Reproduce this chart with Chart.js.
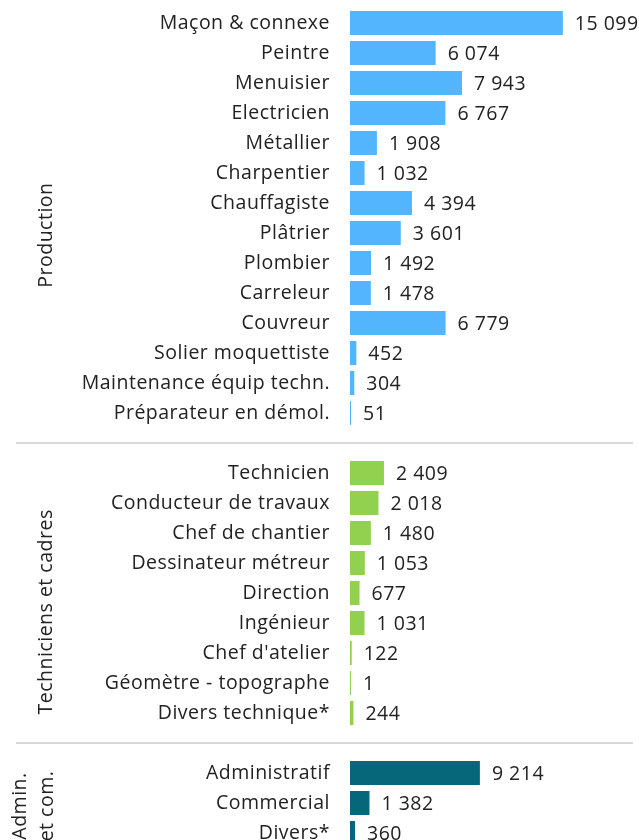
<!DOCTYPE html>
<html>
<head>
<meta charset="utf-8">
<script src="https://cdn.jsdelivr.net/npm/chart.js@4.4.0/dist/chart.umd.min.js"></script>
<style>
  html, body { margin: 0; padding: 0; background: #fff; overflow: hidden; }
  #wrap { position: relative; width: 639px; height: 860px; }
</style>
</head>
<body>
<div id="wrap"><canvas id="MetiersChart" width="639" height="860"></canvas></div>
<script>
// metiers (rows), '' = separator rows between groups
const metiers = [
    'Maçon & connexe', 'Peintre', 'Menuisier', 'Electricien', 'Métallier', 'Charpentier',
    'Chauffagiste', 'Plâtrier', 'Plombier', 'Carreleur', 'Couvreur', 'Solier moquettiste',
    'Maintenance équip techn.', 'Préparateur en démol.',
    '',
    'Technicien', 'Conducteur de travaux', 'Chef de chantier', 'Dessinateur métreur',
    'Direction', 'Ingénieur', "Chef d'atelier", 'Géomètre - topographe', 'Divers technique*',
    '',
    'Administratif', 'Commercial', 'Divers*'
];
const effectifs = [
    15099, 6074, 7943, 6767, 1908, 1032, 4394, 3601, 1492, 1478, 6779, 452, 304, 51,
    null,
    2409, 2018, 1480, 1053, 677, 1031, 122, 1, 244,
    null,
    9214, 1382, 360
];
const groupes = ['P', 'P', 'P', 'P', 'P', 'P', 'P', 'P', 'P', 'P', 'P', 'P', 'P', 'P',
    '-', 'T', 'T', 'T', 'T', 'T', 'T', 'T', 'T', 'T', '-', 'A', 'A', 'A'];
const couleurs = { P: '#52b5fd', T: '#92d050', A: '#056779', '-': 'rgba(0,0,0,0)' };

const police = "'Open Sans', sans-serif";
const taille = 19.5;

function format_nombre(v) {
    return String(v).replace(/\B(?=(\d{3})+(?!\d))/g, ' ');
}

// labels des valeurs + separateurs + titres de groupe
const habillage = {
    id: 'habillage',
    beforeDraw(chart) {
        // texte un peu espacé comme l'original
        chart.ctx.letterSpacing = '0.5px';
    },
    afterDatasetsDraw(chart) {
        const ctx = chart.ctx;
        const meta = chart.getDatasetMeta(0);
        const yScale = chart.scales.y;
        ctx.save();
        ctx.font = taille + 'px ' + police;
        ctx.fillStyle = '#222';
        ctx.textAlign = 'left';
        ctx.textBaseline = 'middle';
        meta.data.forEach(function (bar, i) {
            if (effectifs[i] == null) return;
            ctx.fillText(format_nombre(effectifs[i]), bar.x + 12, bar.y + 1);
        });

        // lignes de separation
        ctx.strokeStyle = '#d9d9d9';
        ctx.lineWidth = 2;
        groupes.forEach(function (g, i) {
            if (g !== '-') return;
            const y = Math.round(yScale.getPixelForValue(i));
            ctx.beginPath();
            ctx.moveTo(16, y);
            ctx.lineTo(633, y);
            ctx.stroke();
        });

        // titres de groupe (verticaux)
        const titres = [
            { lignes: ['Production'], pos: 7.07 },
            { lignes: ['Techniciens et cadres'], pos: 19.63 },
            { lignes: ['Admin.', 'et com.'], pos: 26.1 }
        ];
        ctx.textAlign = 'center';
        titres.forEach(function (t) {
            const y = yScale.getPixelForValue(t.pos);
            const x0 = t.lignes.length > 1 ? 20 : 46;
            t.lignes.forEach(function (txt, k) {
                ctx.save();
                ctx.translate(x0 + k * 27, y);
                ctx.rotate(-Math.PI / 2);
                ctx.fillText(txt, 0, 0);
                ctx.restore();
            });
        });
        ctx.restore();
    }
};

const ctx_metiers = document.getElementById('MetiersChart');
new Chart(ctx_metiers, {
    type: 'bar',
    data: {
        labels: metiers,
        datasets: [{
            data: effectifs,
            backgroundColor: groupes.map(g => couleurs[g]),
            barPercentage: 1,
            categoryPercentage: 0.8,
            minBarLength: 1,
            borderWidth: 0
        }]
    },
    options: {
        indexAxis: 'y',
        responsive: false,
        animation: false,
        layout: { padding: { top: 8, bottom: 12, left: 0, right: 0 } },
        plugins: {
            legend: { display: false },
            tooltip: { enabled: false }
        },
        scales: {
            x: {
                display: false,
                min: 0,
                max: 20500
            },
            y: {
                grid: { display: false, drawTicks: false },
                border: { display: false },
                afterFit: function (axis) {
                    axis.width = 350;
                    axis.paddingTop = 0;
                    axis.paddingBottom = 0;
                },
                ticks: {
                    padding: 20,
                    color: '#222',
                    font: { family: police, size: taille },
                    autoSkip: false
                }
            }
        }
    },
    plugins: [habillage]
});
</script>
</body>
</html>
